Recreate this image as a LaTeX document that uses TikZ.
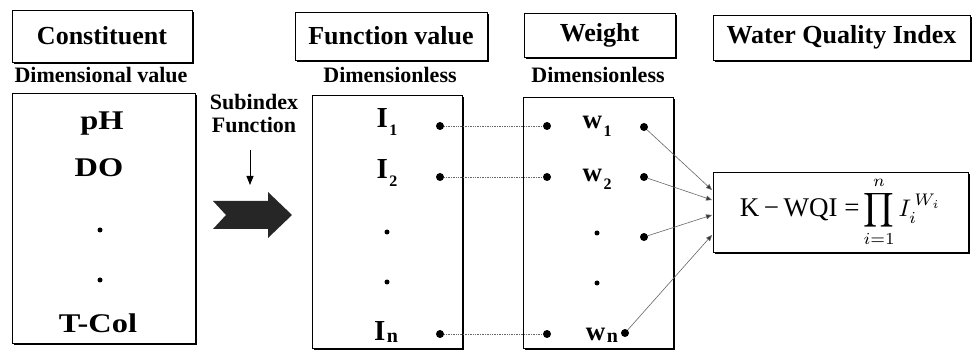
\documentclass[tikz,border=0pt]{standalone}
\usepackage{graphicx}
\usepackage{fontspec}
\setmainfont{Liberation Serif}
\usetikzlibrary{arrows.meta,shadows}
\newcommand{\mysub}[1]{\kern1.5pt\raisebox{-8pt}{\fontsize{16}{16}\selectfont #1}}
\newcommand{\mysubn}[1]{\kern1.5pt\raisebox{-2pt}{\fontsize{20}{20}\selectfont #1}}
\newcommand{\wide}[1]{\scalebox{1.2}[1]{#1}}
\tikzset{
  box/.style={draw, line width=0.8pt, fill=white, inner sep=0pt,
    drop shadow={shadow xshift=1.6pt, shadow yshift=-1.6pt, opacity=1, fill=black}},
  hdr/.style={font=\fontsize{26}{28}\selectfont\bfseries},
  sub/.style={font=\fontsize{22}{24}\selectfont\bfseries, inner sep=0pt},
  lab/.style={font=\fontsize{27}{29}\selectfont\bfseries, anchor=base, inner sep=0pt},
  sym/.style={font=\fontsize{29}{30}\selectfont\bfseries, anchor=base, inner sep=0pt},
  wsym/.style={font=\fontsize{27}{30}\selectfont\bfseries, anchor=base, inner sep=0pt},
  bigdot/.style={circle, fill=black, inner sep=0pt, minimum size=8pt},
  smalldot/.style={circle, fill=black, inner sep=0pt, minimum size=5pt},
  link/.style={densely dotted, black!60, line width=0.7pt},
  feed/.style={black!60, line width=0.6pt, -{Triangle[length=6pt,width=5pt,fill=black!80]}},
}
\begin{document}
\begin{tikzpicture}[x=1pt,y=-1pt]
\useasboundingbox (0,0) rectangle (974,352);
% headers
\node[box, hdr, minimum width=180pt, minimum height=52pt] (hc) at (102,36) {Constituent};
\node[box, hdr, minimum width=192pt, minimum height=48pt] (hf) at (391,36) {Function value};
\node[box, hdr, minimum width=151pt, minimum height=44pt] (hw) at (599.5,35) {Weight};
\node[box, hdr, minimum width=257pt, minimum height=45pt] (hq) at (841.5,37.5) {Water Quality Index};
% sub headers
\node[sub] (sc) at (101,75) {Dimensional value};
\node[sub] (sf) at (390,75) {Dimensionless};
\node[sub] (sw) at (598,75) {Dimensionless};
% main boxes
\node[box, minimum width=183pt, minimum height=250pt] (bc) at (103.5,218) {};
\node[box, minimum width=150pt, minimum height=253pt] (bf) at (387,221.5) {};
\node[box, minimum width=150pt, minimum height=251pt] (bw) at (598,222.5) {};
\node[box, minimum width=255pt, minimum height=80pt] (fq) at (840.5,212)
  {{\fontsize{27}{28}\selectfont K\,−\,WQI =}\kern4pt\scalebox{2.4}{\fontsize{10}{12}\selectfont$\displaystyle\prod_{i=1}^{n} I_i^{\,W_i}$}};
% constituent contents
\node[lab] (ph) at (102,130) {\wide{pH}};
\node[lab] (do) at (99,177) {\wide{DO}};
\node[smalldot] (cd1) at (100,230) {};
\node[smalldot] (cd2) at (100,280) {};
\node[lab] (tc) at (98,333) {\wide{T-Col}};
% subindex function
\node[sub] (si) at (254,102) {Subindex};
\node[sub] (sfn) at (254,125) {Function};
\coordinate (sa1) at (250,150);
\coordinate (sa2) at (250,185);
\draw[line width=0.8pt, -{Triangle[length=9pt,width=7pt]}] (sa1) -- (sa2);
\fill[black!85] (213,201) -- (268,201) -- (268,192) -- (292,215) -- (268,238) -- (268,229) -- (213,229) -- (226,215) -- cycle;
% function value contents
\node[sym] (i1) at (387,128) {I\mysub{1}};
\node[sym] (i2) at (387,179) {I\mysub{2}};
\node[smalldot] (fd1) at (387,232) {};
\node[smalldot] (fd2) at (387,282) {};
\node[sym] (in) at (386,341) {I\mysubn{n}};
\node[bigdot] (p1) at (440,126) {};
\node[bigdot] (p2) at (440,177) {};
\node[bigdot] (pn) at (440,334) {};
% weight contents
\node[bigdot] (q1) at (547,126) {};
\node[bigdot] (q2) at (547,177) {};
\node[bigdot] (qn) at (547,334) {};
\node[wsym] (w1) at (597,129) {w\mysub{1}};
\node[wsym] (w2) at (597,182) {w\mysub{2}};
\node[smalldot] (wd1) at (597,233) {};
\node[smalldot] (wd2) at (597,283) {};
\node[wsym] (wn) at (602,341) {w\mysubn{n}};
\node[bigdot] (r1) at (644,127) {};
\node[bigdot] (r2) at (644,177) {};
\node[bigdot] (r3) at (644,237) {};
\node[bigdot] (rn) at (625,333) {};
% links
\draw[link] (p1) -- (q1);
\draw[link] (p2) -- (q2);
\draw[link] (pn) -- (qn);
\coordinate (t1) at (712,190);
\coordinate (t2) at (712,200);
\coordinate (t3) at (712,215);
\coordinate (t4) at (712,235);
\draw[feed] (r1) -- (t1);
\draw[feed] (r2) -- (t2);
\draw[feed] (r3) -- (t3);
\draw[feed] (rn) -- (t4);
\end{tikzpicture}
\end{document}
